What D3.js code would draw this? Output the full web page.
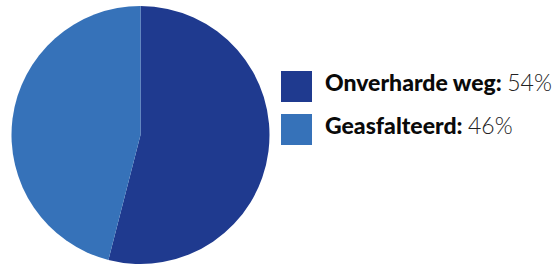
<!DOCTYPE html>
<html>
<head>
<meta charset="utf-8">
<script src="https://cdn.jsdelivr.net/npm/d3@7"></script>
<style>
  body { margin: 0; background: #fff; }
  svg { display: block; }
</style>
</head>
<body>
<div id="chart-area"></div>
<script>
var categories = ["Onverharde weg", "Geasfalteerd"];
var values = [54, 46];
var colors = ["#1f3a8f", "#3672b9"];

var width = 557,
    height = 273;

var svg = d3.select("#chart-area")
    .append("svg")
    .attr("width", width)
    .attr("height", height);

var radius = 129;

var g = svg.append("g")
    .attr("transform", "translate(140.5, 135)");

var pie = d3.pie()
    .sort(null)
    .value(function (d) { return d; });

var arc = d3.arc()
    .innerRadius(0)
    .outerRadius(radius);

g.selectAll("path")
    .data(pie(values))
    .enter()
    .append("path")
    .attr("d", arc)
    .attr("fill", function (d, i) { return colors[i]; });

// legend
var legend = svg.append("g")
    .attr("transform", "translate(281, 71)");

var rows = legend.selectAll("g")
    .data(categories)
    .enter()
    .append("g")
    .attr("transform", function (d, i) { return "translate(0," + (i * 43) + ")"; });

rows.append("rect")
    .attr("width", 31)
    .attr("height", 31)
    .attr("fill", function (d, i) { return colors[i]; });

var label = rows.append("text")
    .attr("x", 44)
    .attr("y", 20)
    .attr("font-family", "Lato, 'Open Sans', sans-serif")
    .attr("font-size", "23px")
    .attr("fill", "#0a0a0a");

label.append("tspan")
    .attr("font-weight", 900)
    .text(function (d) { return d + ": "; });

label.append("tspan")
    .attr("font-weight", 300)
    .attr("fill", "#222")
    .text(function (d, i) { return values[i] + "%"; });
</script>
</body>
</html>
